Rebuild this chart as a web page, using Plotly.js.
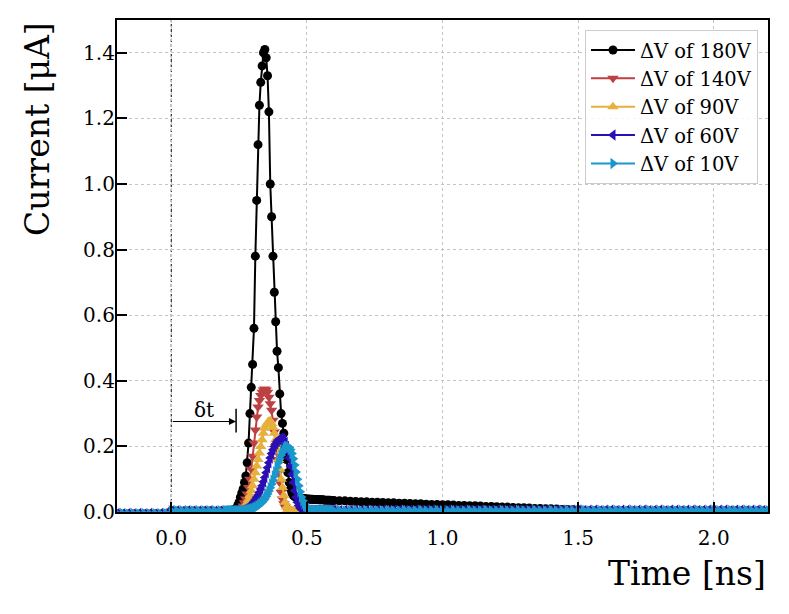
<!DOCTYPE html>
<html>
<head>
<meta charset="utf-8">
<script src="https://cdn.plot.ly/plotly-3.0.1.min.js"></script>
<style>
  html, body { margin: 0; padding: 0; background: #ffffff; }
  #chart { width: 789px; height: 614px; }
</style>
</head>
<body>
<div id="chart"></div>
<script>
// ---------------- data ----------------
// sample times (ns): three sampling windows
function seq(start, step, n) {
  return Array.from({length: n}, function (_, i) { return +(start + i * step).toFixed(3); });
}
const timePre  = seq(-0.20, 0.02, 20);   // -0.20 .. 0.18
const timePeak = seq(0.200, 0.005, 80);  // 0.200 .. 0.595
const timeTail = seq(0.60, 0.02, 81);    // 0.60 .. 2.20

const seriesNames = ["\u0394V of 180V", "\u0394V of 140V", "\u0394V of 90V", "\u0394V of 60V", "\u0394V of 10V"];

// current (µA)
const current180Pre = [-0.006,-0.005,-0.006,-0.005,-0.006,-0.005,-0.006,-0.005,-0.006,-0.005,
                        0.003,0.003,0.002,0.003,0.003,0.002,0.003,0.003,0.002,0.003];
const current180Peak = [0.003,0.003,0.003,0.004,0.004,0.005,0.006,0.008,0.012,0.020,
                        0.030,0.045,0.058,0.070,0.090,0.110,0.150,0.210,0.300,0.380,
                        0.450,0.560,0.780,0.950,1.120,1.240,1.310,1.360,1.400,1.410,
                        1.385,1.330,1.220,1.000,0.900,0.780,0.670,0.580,0.490,0.440,
                        0.360,0.300,0.270,0.240,0.200,0.160,0.120,0.090,0.070,0.058,
                        0.050,0.047,0.045,0.044,0.043,0.042,0.042,0.041,0.041,0.040,
                        0.040,0.040,0.039,0.039,0.039,0.038,0.038,0.038,0.038,0.037,
                        0.037,0.037,0.037,0.036,0.036,0.036,0.036,0.036,0.035,0.035];
const current180Tail = [0.035,0.034,0.034,0.033,0.032,0.031,0.031,0.030,0.030,0.029,
                        0.028,0.028,0.027,0.027,0.026,0.025,0.025,0.024,0.023,0.023,
                        0.022,0.022,0.021,0.020,0.020,0.019,0.019,0.018,0.017,0.017,
                        0.016,0.015,0.015,0.014,0.013,0.013,0.012,0.011,0.011,0.010,
                        0.010,0.009,0.008,0.008,0.007,0.006,0.005,0.004,0.004,0.003,
                        0.003,0.003,0.003,0.002,0.003,0.002,0.003,0.002,0.003,0.002,
                        0.003,0.002,0.003,0.002,0.003,0.002,0.003,0.002,0.003,0.002,
                        0.003,0.002,0.003,0.002,0.003,0.002,0.003,0.002,0.003,0.002,
                        0.003];

const current140Pre = [-0.005,-0.006,-0.005,-0.006,-0.005,-0.006,-0.005,-0.006,-0.005,-0.006,
                        0.003,0.002,0.003,0.003,0.002,0.003,0.003,0.002,0.003,0.003];
const current140Peak = [0.003,0.003,0.003,0.003,0.004,0.004,0.004,0.005,0.005,0.005,
                        0.006,0.008,0.012,0.018,0.028,0.040,0.055,0.075,0.100,0.130,
                        0.170,0.210,0.250,0.290,0.320,0.340,0.355,0.365,0.372,0.375,
                        0.372,0.365,0.350,0.330,0.310,0.280,0.245,0.200,0.160,0.120,
                        0.090,0.060,0.040,0.025,0.015,0.010,0.008,0.007,0.006,0.006,
                        0.006,0.005,0.005,0.006,0.005,0.005,0.005,0.006,0.005,0.005,
                        0.005,0.005,0.006,0.005,0.005,0.005,0.005,0.005,0.006,0.005,
                        0.005,0.005,0.005,0.005,0.006,0.005,0.005,0.005,0.005,0.005];
const current140Tail = [0.005,0.005,0.004,0.005,0.005,0.004,0.005,0.005,0.004,0.005,
                        0.005,0.004,0.005,0.005,0.004,0.005,0.005,0.004,0.005,0.005,
                        0.004,0.005,0.005,0.004,0.005,0.005,0.004,0.005,0.005,0.004,
                        0.005,0.005,0.004,0.005,0.005,0.004,0.005,0.005,0.004,0.005,
                        0.005,0.004,0.005,0.005,0.004,0.005,0.005,0.004,0.005,0.005,
                        0.004,0.005,0.005,0.004,0.005,0.005,0.004,0.005,0.005,0.004,
                        0.005,0.005,0.004,0.005,0.005,0.004,0.005,0.005,0.004,0.005,
                        0.005,0.004,0.005,0.005,0.004,0.005,0.005,0.004,0.005,0.005,
                        0.004];

const current90Pre = [-0.006,-0.005,-0.006,-0.005,-0.006,-0.005,-0.006,-0.005,-0.006,-0.005,
                       0.002,0.003,0.003,0.002,0.003,0.003,0.002,0.003,0.003,0.002];
const current90Peak = [0.003,0.003,0.003,0.003,0.003,0.003,0.003,0.003,0.003,0.003,
                       0.004,0.005,0.007,0.010,0.014,0.020,0.028,0.038,0.050,0.065,
                       0.080,0.100,0.120,0.140,0.160,0.180,0.200,0.220,0.240,0.255,
                       0.265,0.272,0.277,0.278,0.270,0.258,0.240,0.220,0.190,0.160,
                       0.130,0.100,0.075,0.050,0.030,0.015,0.008,0.005,0.004,0.004,
                       0.004,0.005,0.004,0.004,0.005,0.004,0.004,0.005,0.004,0.004,
                       0.005,0.004,0.004,0.005,0.004,0.004,0.005,0.004,0.004,0.005,
                       0.004,0.004,0.005,0.004,0.004,0.005,0.004,0.004,0.005,0.004];
const current90Tail = [0.004,0.005,0.004,0.004,0.005,0.004,0.004,0.005,0.004,0.004,
                       0.005,0.004,0.004,0.005,0.004,0.004,0.005,0.004,0.004,0.005,
                       0.004,0.004,0.005,0.004,0.004,0.005,0.004,0.004,0.005,0.004,
                       0.004,0.005,0.004,0.004,0.005,0.004,0.004,0.005,0.004,0.004,
                       0.005,0.004,0.004,0.005,0.004,0.004,0.005,0.004,0.004,0.005,
                       0.004,0.004,0.005,0.004,0.004,0.005,0.004,0.004,0.005,0.004,
                       0.004,0.005,0.004,0.004,0.005,0.004,0.004,0.005,0.004,0.004,
                       0.005,0.004,0.004,0.005,0.004,0.004,0.005,0.004,0.004,0.005,
                       0.004];

const current60Pre = [-0.005,-0.006,-0.005,-0.006,-0.005,-0.006,-0.005,-0.006,-0.005,-0.006,
                       0.003,0.003,0.002,0.003,0.003,0.002,0.003,0.003,0.002,0.003];
const current60Peak = [0.003,0.003,0.003,0.003,0.003,0.003,0.003,0.003,0.003,0.003,
                       0.003,0.003,0.004,0.006,0.008,0.010,0.012,0.015,0.018,0.022,
                       0.027,0.032,0.038,0.045,0.052,0.060,0.070,0.080,0.092,0.105,
                       0.120,0.135,0.150,0.165,0.178,0.190,0.200,0.208,0.215,0.220,
                       0.223,0.225,0.224,0.220,0.212,0.200,0.185,0.165,0.140,0.115,
                       0.090,0.065,0.045,0.030,0.020,0.012,0.008,0.006,0.005,0.005,
                       0.005,0.004,0.005,0.005,0.004,0.005,0.005,0.004,0.005,0.005,
                       0.004,0.005,0.005,0.004,0.005,0.005,0.004,0.005,0.005,0.004];
const current60Tail = [0.005,0.004,0.005,0.005,0.004,0.005,0.005,0.004,0.005,0.005,
                       0.004,0.005,0.005,0.004,0.005,0.005,0.004,0.005,0.005,0.004,
                       0.005,0.005,0.004,0.005,0.005,0.004,0.005,0.005,0.004,0.005,
                       0.005,0.004,0.005,0.005,0.004,0.005,0.005,0.004,0.005,0.005,
                       0.004,0.005,0.005,0.004,0.005,0.005,0.004,0.005,0.005,0.004,
                       0.005,0.005,0.004,0.005,0.005,0.004,0.005,0.005,0.004,0.005,
                       0.005,0.004,0.005,0.005,0.004,0.005,0.005,0.004,0.005,0.005,
                       0.004,0.005,0.005,0.004,0.005,0.005,0.004,0.005,0.005,0.004,
                       0.005];

const current10Pre = [-0.006,-0.005,-0.006,-0.005,-0.006,-0.005,-0.006,-0.005,-0.006,-0.005,
                       0.004,0.004,0.004,0.004,0.004,0.004,0.004,0.004,0.004,0.004];
const current10Peak = [0.004,0.004,0.004,0.004,0.004,0.004,0.004,0.004,0.004,0.004,
                       0.004,0.004,0.004,0.004,0.004,0.005,0.006,0.007,0.008,0.009,
                       0.010,0.012,0.014,0.016,0.019,0.022,0.026,0.030,0.035,0.040,
                       0.047,0.055,0.064,0.074,0.085,0.097,0.110,0.123,0.137,0.150,
                       0.162,0.173,0.182,0.190,0.196,0.200,0.200,0.197,0.190,0.178,
                       0.162,0.143,0.122,0.100,0.080,0.062,0.046,0.034,0.025,0.018,
                       0.013,0.010,0.008,0.007,0.006,0.005,0.005,0.005,0.004,0.005,
                       0.005,0.004,0.005,0.005,0.004,0.005,0.005,0.004,0.005,0.005];
const current10Tail = [0.004,0.005,0.004,0.004,0.005,0.004,0.004,0.005,0.004,0.004,
                       0.005,0.004,0.004,0.005,0.004,0.004,0.005,0.004,0.004,0.005,
                       0.004,0.004,0.005,0.004,0.004,0.005,0.004,0.004,0.005,0.004,
                       0.004,0.005,0.004,0.004,0.005,0.004,0.004,0.005,0.004,0.004,
                       0.005,0.004,0.004,0.005,0.004,0.004,0.005,0.004,0.004,0.005,
                       0.004,0.004,0.005,0.004,0.004,0.005,0.004,0.004,0.005,0.004,
                       0.004,0.005,0.004,0.004,0.005,0.004,0.004,0.005,0.004,0.004,
                       0.005,0.004,0.004,0.005,0.004,0.004,0.005,0.004,0.004,0.005,
                       0.004];

// δt annotation (ns, µA)
const deltaTStart = 0.0;
const deltaTEnd = 0.239;
const deltaTLevel = 0.276;
const deltaTBarLow = 0.242;
const deltaTBarHigh = 0.315;
const deltaTLabelX = 0.1215;
const deltaTLabelY = 0.31;

const xTickVals = [0.0, 0.5, 1.0, 1.5, 2.0];
const yTickVals = [0.0, 0.2, 0.4, 0.6, 0.8, 1.0, 1.2, 1.4];

// ---------------- styling ----------------
const FONT = "DejaVu Serif";
const colors = ["#000000", "#bd4143", "#e5b03b", "#2b0fb4", "#1a98cc"];
const symbols = ["circle", "triangle-down", "triangle-up", "triangle-left", "triangle-right"];
const sizes = [9, 10, 10, 10, 10];

const timeAll = timePre.concat(timePeak, timeTail);
const seriesValues = [
  current180Pre.concat(current180Peak, current180Tail),
  current140Pre.concat(current140Peak, current140Tail),
  current90Pre.concat(current90Peak, current90Tail),
  current60Pre.concat(current60Peak, current60Tail),
  current10Pre.concat(current10Peak, current10Tail)
];

const traces = seriesValues.map(function (vals, i) {
  return {
    type: "scatter",
    mode: "lines+markers",
    x: timeAll,
    y: vals,
    name: seriesNames[i],
    legendgroup: "g" + i,
    line: {color: colors[i], width: 2},
    marker: {color: colors[i], symbol: symbols[i], size: sizes[i], line: {width: 0}}
  };
});

const layout = {
  width: 789,
  height: 614,
  margin: {l: 117, r: 21, t: 20, b: 102},
  paper_bgcolor: "#ffffff",
  plot_bgcolor: "#ffffff",
  font: {family: FONT, color: "#000000", size: 20},
  showlegend: true,
  legend: {
    x: 0.9846, xanchor: "right",
    y: 0.98, yanchor: "top",
    bgcolor: "rgba(255,255,255,0.85)",
    bordercolor: "#cccccc",
    borderwidth: 1,
    font: {family: FONT, size: 19.5, color: "#000000"},
    itemwidth: 44,
    tracegroupgap: 0
  },
  xaxis: {
    range: [-0.2, 2.2],
    tickvals: xTickVals,
    tickformat: ".1f",
    ticks: "inside",
    ticklen: 10,
    tickwidth: 2,
    tickcolor: "#000000",
    ticklabelstandoff: 7,
    showline: true,
    linewidth: 2.2,
    linecolor: "#000000",
    mirror: true,
    showgrid: true,
    gridcolor: "#c4c4c4",
    gridwidth: 0.7,
    griddash: "dot",
    zeroline: false,
    tickfont: {family: FONT, size: 20, color: "#000000"}
  },
  yaxis: {
    range: [0, 1.5],
    tickvals: yTickVals,
    tickformat: ".1f",
    ticks: "inside",
    ticklen: 10,
    tickwidth: 2,
    tickcolor: "#000000",
    ticklabelstandoff: -4,
    showline: true,
    linewidth: 2.2,
    linecolor: "#000000",
    mirror: true,
    showgrid: true,
    gridcolor: "#c4c4c4",
    gridwidth: 0.7,
    griddash: "dot",
    zeroline: false,
    tickfont: {family: FONT, size: 20, color: "#000000"}
  },
  shapes: [
    {type: "line", xref: "x", yref: "paper", x0: deltaTStart, x1: deltaTStart, y0: 0, y1: 1,
     line: {color: "#000000", width: 1, dash: "3px,2px"}, layer: "below"},
    {type: "line", xref: "x", yref: "y", x0: deltaTEnd, x1: deltaTEnd, y0: deltaTBarLow, y1: deltaTBarHigh,
     line: {color: "#000000", width: 1.5}}
  ],
  annotations: [
    {xref: "x", yref: "y", axref: "x", ayref: "y",
     x: deltaTEnd, y: deltaTLevel, ax: deltaTStart, ay: deltaTLevel,
     text: "", showarrow: true, arrowhead: 2, arrowsize: 1.3, arrowwidth: 1.1, arrowcolor: "#000000"},
    {xref: "x", yref: "y", x: deltaTLabelX, y: deltaTLabelY, text: "\u03b4t", showarrow: false,
     font: {family: FONT, size: 20, color: "#000000"}, xanchor: "center", yanchor: "middle"},
    {xref: "paper", yref: "paper", x: -0.123, y: 1.0, xanchor: "center", yanchor: "top",
     text: "Current [\u03bcA]", textangle: -90, showarrow: false,
     font: {family: FONT, size: 33, color: "#000000"}},
    {xref: "paper", yref: "paper", x: 1.0, y: -0.126, xanchor: "right", yanchor: "middle",
     text: "Time [ns]", showarrow: false,
     font: {family: FONT, size: 33, color: "#000000"}}
  ]
};

Plotly.newPlot("chart", traces, layout, {displayModeBar: false, responsive: false});
</script>
</body>
</html>
